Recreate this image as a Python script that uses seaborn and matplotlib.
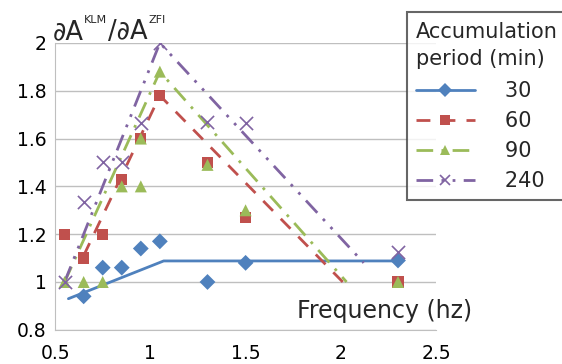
import numpy as np
import pandas as pd
import matplotlib
matplotlib.use("Agg")
import matplotlib.pyplot as plt
import seaborn as sns
from matplotlib.lines import Line2D

# measured points
x30 = [0.65, 0.75, 0.85, 0.95, 1.05, 1.3, 1.5, 2.3]
y30 = [0.94, 1.06, 1.06, 1.14, 1.17, 1.0, 1.08, 1.09]
x60 = [0.55, 0.65, 0.75, 0.85, 0.95, 1.05, 1.3, 1.5, 2.3]
y60 = [1.2, 1.1, 1.2, 1.43, 1.6, 1.78, 1.5, 1.27, 1.0]
x90 = [0.55, 0.65, 0.75, 0.85, 0.95, 0.95, 1.05, 1.3, 1.5, 2.3]
y90 = [1.0, 1.0, 1.0, 1.4, 1.4, 1.6, 1.88, 1.49, 1.3, 1.0]
x240 = [0.55, 0.65, 0.75, 0.85, 0.95, 1.05, 1.3, 1.5, 2.3]
y240 = [1.0, 1.335, 1.5, 1.5, 1.665, 2.0, 1.67, 1.665, 1.125]

# fitted trend lines
lx30 = [0.57, 1.07, 2.3]
ly30 = [0.93, 1.088, 1.088]
lx60 = [0.65, 1.05, 2.01]
ly60 = [1.11, 1.78, 1.0]
lx90 = [0.55, 1.05, 2.03]
ly90 = [1.0, 1.88, 1.0]
lx240 = [0.55, 1.05, 2.12]
ly240 = [1.0, 2.0, 1.08]

periods = ["30", "60", "90", "240"]

sns.set_style("white")
plt.rcParams['font.family'] = ['DejaVu Sans']

colors = ["#4F81BD", "#C0504D", "#9BBB59", "#8064A2"]
markers = ["D", "s", "^", "x"]
msizes = [65, 65, 75, 90]
styles = ["-", (0, (5, 4)), (0, (6, 3, 1, 3)), (0, (6, 3, 1, 3, 1, 3))]

pts = [(x30, y30), (x60, y60), (x90, y90), (x240, y240)]
lines = [(lx30, ly30), (lx60, ly60), (lx90, ly90), (lx240, ly240)]

fig = plt.figure(figsize=(5.62, 3.64), dpi=100)
ax = fig.add_axes([0.098, 0.094, 0.678, 0.788])

for i, p in enumerate(periods):
    lx, ly = lines[i]
    sns.lineplot(x=lx, y=ly, ax=ax, color=colors[i], linestyle=styles[i],
                 linewidth=2, sort=False, estimator=None, zorder=2)
    px, py = pts[i]
    df = pd.DataFrame({"f": px, "r": py})
    if markers[i] == "x":
        sns.scatterplot(data=df, x="f", y="r", ax=ax, color=colors[i], marker="x",
                        s=msizes[i], linewidth=1.2, zorder=3)
    else:
        sns.scatterplot(data=df, x="f", y="r", ax=ax, color=colors[i], marker=markers[i],
                        s=msizes[i], edgecolor="none", zorder=3)

ax.set_xlim(0.5, 2.5)
ax.set_ylim(0.8, 2.0)
ax.set_xticks([0.5, 1, 1.5, 2, 2.5])
ax.set_xticklabels(["0.5", "1", "1.5", "2", "2.5"])
ax.set_yticks([0.8, 1, 1.2, 1.4, 1.6, 1.8, 2])
ax.set_yticklabels(["0.8", "1", "1.2", "1.4", "1.6", "1.8", "2"])
ax.yaxis.grid(True, color="#BFBFBF", linewidth=1)
ax.set_axisbelow(True)
for s in ["top", "right"]:
    ax.spines[s].set_visible(False)
for s in ["left", "bottom"]:
    ax.spines[s].set_color("#BFBFBF")
ax.tick_params(axis="both", labelsize=13.5, colors="black", length=0, pad=6)
ax.tick_params(axis="x", length=4, color="#BFBFBF", direction="out")
ax.set_xlabel("")
ax.set_ylabel("")

# y label: pieces placed one after another, superscripts small and raised
W = fig.bbox.width
base_y = 0.892
sup_y = 0.937
t = fig.text(0.094, base_y, "\u2202A", fontsize=18.5)
fig.canvas.draw()
x = t.get_window_extent().x1 + 0.5
t = fig.text(x / W, sup_y, "KLM", fontsize=8)
fig.canvas.draw()
x = t.get_window_extent().x1 + 0.5
t = fig.text(x / W, base_y, "/\u2202A", fontsize=18.5)
fig.canvas.draw()
x = t.get_window_extent().x1 + 0.5
fig.text(x / W, sup_y, "ZFI", fontsize=8)

ax.text(0.635, 0.042, "Frequency (hz)", transform=ax.transAxes, fontsize=17, va="baseline")

handles = [Line2D([0], [0], color=colors[i], linestyle=styles[i], linewidth=2,
                  marker=markers[i], markersize=7, markeredgewidth=1.2 if i == 3 else 0)
           for i in range(4)]
leg = fig.legend(handles, ["   " + p for p in periods], title="Accumulation\nperiod (min)",
                 loc="upper left", bbox_to_anchor=(0.724, 0.966), fontsize=15,
                 title_fontsize=15, frameon=True, fancybox=False, handlelength=2.8,
                 handletextpad=0.5, borderpad=0.45, labelspacing=0.47, borderaxespad=0)
leg._legend_box.align = "left"
leg._legend_box.sep = 9
leg.get_title().set_linespacing(1.45)
leg.get_frame().set_edgecolor("#404040")
leg.get_frame().set_linewidth(1.5)

fig.savefig("out.png", dpi=100)
